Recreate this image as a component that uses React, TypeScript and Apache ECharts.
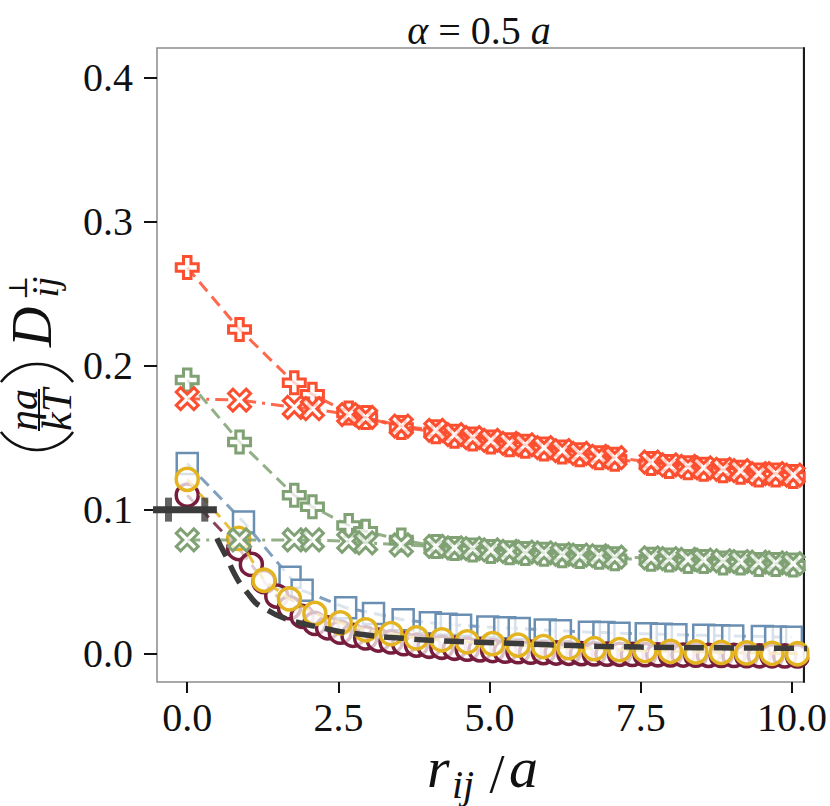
import React, { useEffect, useRef } from "react";
import * as echarts from "echarts";

// ---- data ----
const xTicks = [0, 2.5, 5, 7.5, 10];
const yTicks = [0, 0.1, 0.2, 0.3, 0.4];

const rLattice = [0, 0.865, 1.77, 2.07, 2.67, 2.95, 3.54, 4.11, 4.42, 4.72, 5.02, 5.33, 5.59, 5.9, 6.2, 6.49, 6.81, 7.07, 7.67, 7.97, 8.28, 8.54, 8.86, 9.15, 9.45, 9.73, 10.02];
const redPlus = [0.268, 0.225, 0.188, 0.18, 0.167, 0.164, 0.157, 0.154, 0.151, 0.149, 0.147, 0.145, 0.144, 0.142, 0.14, 0.138, 0.136, 0.135, 0.132, 0.13, 0.129, 0.128, 0.127, 0.126, 0.124, 0.124, 0.123];
const redCross = [0.177, 0.176, 0.171, 0.17, 0.166, 0.164, 0.158, 0.155, 0.152, 0.15, 0.148, 0.146, 0.145, 0.143, 0.141, 0.139, 0.137, 0.136, 0.133, 0.131, 0.13, 0.129, 0.128, 0.127, 0.125, 0.125, 0.124];
const greenPlus = [0.19, 0.147, 0.11, 0.102, 0.089, 0.085, 0.079, 0.0745, 0.073, 0.072, 0.071, 0.07, 0.0695, 0.069, 0.068, 0.0675, 0.067, 0.066, 0.0655, 0.065, 0.064, 0.064, 0.063, 0.063, 0.062, 0.062, 0.0615];
const greenCross = [0.079, 0.079, 0.079, 0.079, 0.078, 0.077, 0.0755, 0.0745, 0.0735, 0.073, 0.072, 0.071, 0.0705, 0.07, 0.069, 0.0685, 0.068, 0.067, 0.0665, 0.066, 0.0655, 0.065, 0.0645, 0.064, 0.0635, 0.063, 0.0625];

const rSquares = [0, 0.93, 1.7, 1.9, 2.62, 3.08, 3.57, 4.02, 4.28, 4.52, 4.97, 5.25, 5.49, 5.92, 6.17, 6.65, 6.89, 7.14, 7.59, 7.84, 8.08, 8.54, 8.79, 9.02, 9.51, 9.73, 9.99];
const blueSquares = [0.132, 0.0915, 0.053, 0.044, 0.032, 0.028, 0.0236, 0.0215, 0.0205, 0.0198, 0.0185, 0.018, 0.0175, 0.0165, 0.016, 0.015, 0.0147, 0.0143, 0.0138, 0.0135, 0.0132, 0.0128, 0.0125, 0.0123, 0.012, 0.0117, 0.0115];

const rMaroon = [0, 0.85, 1.06, 1.27, 1.48, 1.69, 1.9, 2.11, 2.32, 2.53, 2.74, 2.95, 3.16, 3.37, 3.58, 3.79, 4.0, 4.21, 4.42, 4.63, 4.84, 5.05, 5.26, 5.47, 5.68, 5.89, 6.1, 6.31, 6.52, 6.73, 6.94, 7.15, 7.36, 7.57, 7.78, 7.99, 8.2, 8.41, 8.62, 8.83, 9.04, 9.25, 9.46, 9.67, 9.88, 10.09];
const maroonCircles = [0.11, 0.073, 0.062, 0.05, 0.04, 0.032, 0.026, 0.021, 0.018, 0.015, 0.0128, 0.011, 0.0095, 0.0082, 0.007, 0.006, 0.0052, 0.0045, 0.0038, 0.0032, 0.0027, 0.0022, 0.0018, 0.0014, 0.0011, 0.0008, 0.0005, 0.0003, 0.0001, -0.0001, -0.0003, -0.0004, -0.0005, -0.0006, -0.0007, -0.0008, -0.0009, -0.001, -0.0011, -0.0012, -0.0012, -0.0013, -0.0014, -0.0014, -0.0015, -0.0015];

const rYellow = [0, 0.85, 1.27, 1.69, 2.11, 2.53, 2.95, 3.37, 3.79, 4.21, 4.63, 5.05, 5.47, 5.89, 6.31, 6.73, 7.15, 7.57, 7.99, 8.41, 8.83, 9.25, 9.67, 10.09];
const yellowCircles = [0.121, 0.08, 0.051, 0.038, 0.028, 0.0215, 0.0166, 0.0139, 0.011, 0.0097, 0.0083, 0.007, 0.006, 0.005, 0.0042, 0.0035, 0.0028, 0.0022, 0.0017, 0.0013, 0.0009, 0.0006, 0.0003, 0.0];

const rCurve = [0.49, 0.55, 0.65, 0.75, 0.87, 1.0, 1.14, 1.3, 1.47, 1.65, 1.85, 2.05, 2.23, 2.45, 2.67, 3.0, 3.21, 3.5, 3.87, 4.5, 5.13, 6.0, 6.77, 7.5, 8.41, 9.2, 10.3];
const darkCurve = [0.08, 0.075, 0.067, 0.058, 0.049, 0.042, 0.035, 0.031, 0.027, 0.024, 0.0215, 0.0195, 0.018, 0.016, 0.0146, 0.0128, 0.0118, 0.011, 0.0097, 0.0085, 0.0076, 0.0062, 0.0052, 0.0046, 0.0042, 0.004, 0.0037];

const rBar = [-0.7, 0.49];
const barLevel = [0.1, 0.1];
const rBarTicks = [-0.31, 0.29];
const barTickLevel = [0.1, 0.1];

// ---- styling ----
const RED = "#fc4f30";
const GREEN = "#7fa173";
const BLUE = "#6a8fb3";
const MAROON = "#761c3c";
const YELLOW = "#e3b420";
const DARK = "#3b3b3b";
const FACE = "rgba(255,255,255,0.72)";
const SERIF = "'Liberation Serif', 'DejaVu Serif', serif";

const PLUS = "path://M33,0 L67,0 L67,33 L100,33 L100,67 L67,67 L67,100 L33,100 L33,67 L0,67 L0,33 L33,33 Z";
const CROSS = "path://M0,20 L20,0 L50,30 L80,0 L100,20 L70,50 L100,80 L80,100 L50,70 L20,100 L0,80 L30,50 Z";

const DASH = [12, 7];
const DASHDOT = [13, 6, 3, 6];

function pts(xs: number[], ys: number[]) {
  return xs.map((x, i) => [x, ys[i]]);
}

function markerSeries(
  name: string,
  xs: number[],
  ys: number[],
  color: string,
  symbol: string,
  size: number,
  dash: number[],
  borderWidth: number,
  z: number
) {
  return {
    type: "line",
    name,
    data: pts(xs, ys),
    symbol,
    symbolSize: size,
    showSymbol: true,
    lineStyle: { color, width: 3, type: dash, opacity: 0.85 },
    itemStyle: { color: FACE, borderColor: color, borderWidth },
    emphasis: { disabled: true },
    z,
  };
}

export default function App() {
  const ref = useRef<HTMLDivElement>(null);

  useEffect(() => {
    if (!ref.current) return;
    const chart = echarts.init(ref.current, null, { renderer: "svg" });

    const yMin = -0.0196;
    const yMax = 0.4203;

    const option: any = {
      animation: false,
      backgroundColor: "#ffffff",
      grid: {
        left: 157,
        right: 22,
        top: 48,
        bottom: 124,
        show: true,
        borderColor: "#8c8c8c",
        borderWidth: 1.5,
        backgroundColor: "transparent",
      },
      xAxis: [
        {
          type: "value",
          position: "bottom",
          min: -0.5,
          max: 10.19,
          splitLine: { show: false },
          axisLine: { show: false, onZero: false },
          axisTick: {
            show: true,
            customValues: xTicks,
            length: 11,
            lineStyle: { color: "#111", width: 2 },
          },
          axisLabel: {
            customValues: xTicks,
            formatter: (v: number) => v.toFixed(1),
            fontSize: 40,
            fontFamily: SERIF,
            color: "#111",
            margin: 15,
          },
        },
      ],
      yAxis: [
        {
          type: "value",
          position: "left",
          min: yMin,
          max: yMax,
          splitLine: { show: false },
          axisLine: { show: false, onZero: false },
          axisTick: {
            show: true,
            customValues: yTicks,
            length: 13,
            lineStyle: { color: "#111", width: 2 },
          },
          axisLabel: {
            customValues: yTicks,
            formatter: (v: number) => v.toFixed(1),
            fontSize: 40,
            fontFamily: SERIF,
            color: "#111",
            margin: 24,
          },
        },
        {
          type: "value",
          position: "right",
          min: yMin,
          max: yMax,
          splitLine: { show: false },
          axisLine: { show: true, onZero: false, lineStyle: { color: "#1a1a1a", width: 2 } },
          axisTick: { show: false },
          axisLabel: { show: false },
        },
      ],
      series: [
        markerSeries("squares", rSquares, blueSquares, BLUE, "rect", 21, DASH, 2.5, 2),
        markerSeries("maroon", rMaroon, maroonCircles, MAROON, "circle", 22, DASH, 3.5, 3),
        markerSeries("yellow", rYellow, yellowCircles, YELLOW, "circle", 22, DASH, 3.5, 4),
        markerSeries("greenPlus", rLattice, greenPlus, GREEN, PLUS, 22, DASH, 3, 5),
        markerSeries("greenCross", rLattice, greenCross, GREEN, CROSS, 22, DASHDOT, 3, 6),
        markerSeries("redPlus", rLattice, redPlus, RED, PLUS, 22, DASH, 3, 7),
        markerSeries("redCross", rLattice, redCross, RED, CROSS, 22, DASHDOT, 3, 8),
        {
          type: "line",
          name: "curve",
          data: pts(rCurve, darkCurve),
          smooth: 0.3,
          symbol: "none",
          lineStyle: { color: DARK, width: 5.5, type: [20, 10] },
          emphasis: { disabled: true },
          z: 9,
        },
        {
          type: "line",
          name: "bar",
          data: pts(rBar, barLevel),
          symbol: "none",
          lineStyle: { color: DARK, width: 7 },
          emphasis: { disabled: true },
          z: 9,
        },
        {
          type: "scatter",
          name: "barTicks",
          data: pts(rBarTicks, barTickLevel),
          symbol: "rect",
          symbolSize: [7, 24],
          itemStyle: { color: DARK },
          emphasis: { disabled: true },
          z: 9,
        },
      ],
      graphic: [
        // mask marks that overflow the right spine (like matplotlib clipping)
        {
          type: "rect",
          z: 50,
          shape: { x: 809.5, y: 40, width: 21, height: 652 },
          style: { fill: "#ffffff" },
          silent: true,
        },
        {
          type: "text",
          x: 479,
          y: 30,
          style: {
            text: "{i|α}{n| = 0.5 }{i|a}",
            rich: {
              i: { fontStyle: "italic", fontSize: 40, fontFamily: SERIF, fill: "#111" },
              n: { fontSize: 40, fontFamily: SERIF, fill: "#111" },
            },
            fontSize: 40,
            fontFamily: SERIF,
            fill: "#111",
            align: "center",
            verticalAlign: "middle",
            textAlign: "center",
            textVerticalAlign: "middle",
          },
        },
        // x axis label r_ij / a
        {
          type: "group",
          children: [
            {
              type: "text",
              x: 427,
              y: 767,
              style: { text: "r", fontSize: 58, fontStyle: "italic", fontFamily: SERIF, fill: "#111", align: "left", verticalAlign: "middle" },
            },
            {
              type: "text",
              x: 452,
              y: 784,
              style: { text: "ij", fontSize: 40, fontStyle: "italic", fontFamily: SERIF, fill: "#111", align: "left", verticalAlign: "middle" },
            },
            {
              type: "text",
              x: 497,
              y: 774,
              style: { text: "/", fontSize: 54, fontFamily: SERIF, fill: "#111", align: "center", verticalAlign: "middle" },
            },
            {
              type: "text",
              x: 509,
              y: 767,
              style: { text: "a", fontSize: 58, fontStyle: "italic", fontFamily: SERIF, fill: "#111", align: "left", verticalAlign: "middle" },
            },
          ],
        },
        // y axis label (eta a / kT) D_ij^perp, rotated
        {
          type: "group",
          x: 37,
          y: 363,
          rotation: Math.PI / 2,
          children: [
            {
              type: "arc",
              shape: { cx: -42, cy: 0, r: 45, startAngle: Math.PI - 0.93, endAngle: Math.PI + 0.93, clockwise: true },
              style: { stroke: "#111", lineWidth: 2.5, fill: "none" },
            },
            {
              type: "arc",
              shape: { cx: -46, cy: 0, r: 45, startAngle: -0.93, endAngle: 0.93, clockwise: true },
              style: { stroke: "#111", lineWidth: 2.5, fill: "none" },
            },
            {
              type: "text",
              x: -47,
              y: -14,
              style: { text: "ηa", fontSize: 42, fontStyle: "italic", fontFamily: SERIF, fill: "#111", align: "center", verticalAlign: "middle" },
            },
            {
              type: "line",
              shape: { x1: -68, y1: 2, x2: -26, y2: 2 },
              style: { stroke: "#111", lineWidth: 2 },
            },
            {
              type: "text",
              x: -47,
              y: 20,
              style: { text: "kT", fontSize: 42, fontStyle: "italic", fontFamily: SERIF, fill: "#111", align: "center", verticalAlign: "middle" },
            },
            {
              type: "text",
              x: 16,
              y: -5,
              style: { text: "D", fontSize: 56, fontStyle: "italic", fontFamily: SERIF, fill: "#111", align: "left", verticalAlign: "middle" },
            },
            {
              type: "text",
              x: 75,
              y: -19,
              style: { text: "⊥", fontSize: 26, fontFamily: "'DejaVu Serif', serif", fill: "#111", align: "center", verticalAlign: "middle" },
            },
            {
              type: "text",
              x: 76,
              y: 8,
              style: { text: "ij", fontSize: 38, fontStyle: "italic", fontFamily: SERIF, fill: "#111", align: "center", verticalAlign: "middle" },
            },
          ],
        },
      ],
    };

    chart.setOption(option);
    return () => {
      chart.dispose();
    };
  }, []);

  return (
    <div
      ref={ref}
      style={{ position: "fixed", left: 0, top: 0, width: 830, height: 806, background: "#fff" }}
    />
  );
}
